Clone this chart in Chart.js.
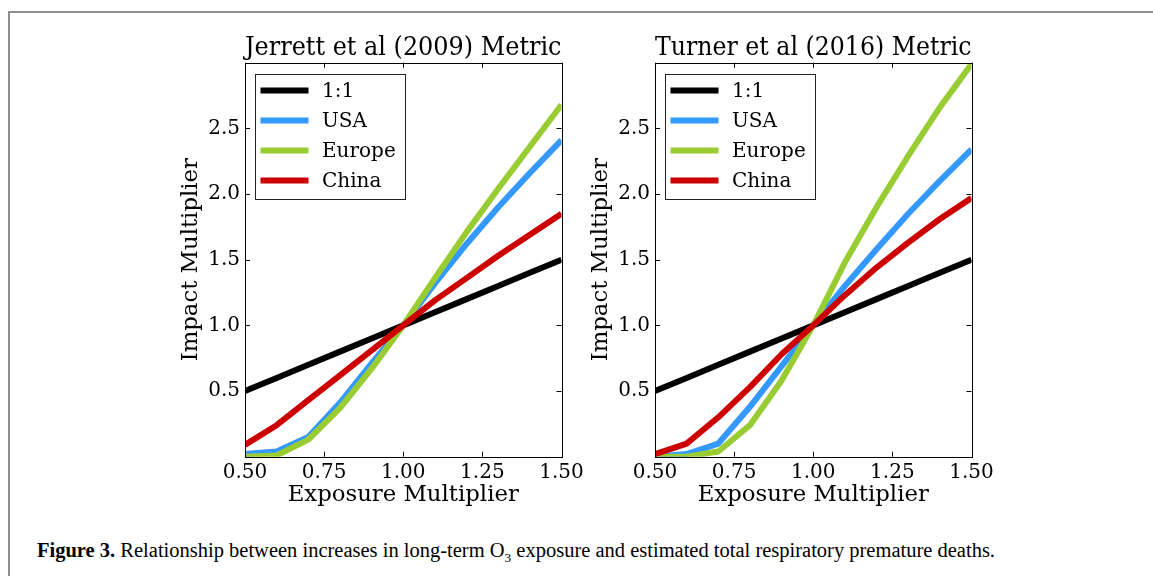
<!DOCTYPE html>
<html>
<head>
<meta charset="utf-8">
<script src="https://cdn.jsdelivr.net/npm/chart.js@4.4.0/dist/chart.umd.min.js"></script>
<style>
  html, body { margin: 0; padding: 0; background: #fff; }
  body { width: 1153px; height: 576px; position: relative; overflow: hidden; }
  #frame { position: absolute; left: 8px; top: 11px; width: 1200px; height: 600px;
           border-left: 2px solid #8f8f8f; border-top: 2px solid #8f8f8f; }
  canvas { position: absolute; top: 20px; }
  #left { left: 178px; }
  #right { left: 588px; }
  #caption { position: absolute; left: 36.7px; top: 540px; font-family: 'Liberation Serif', serif;
             font-size: 20px; line-height: 20px; white-space: nowrap; transform-origin: 0 0; color: #000; }
  #caption sub { font-size: 13px; line-height: 0; }
</style>
</head>
<body>
<div id="frame"></div>
<canvas id="left" width="409" height="500"></canvas>
<canvas id="right" width="409" height="500"></canvas>
<div id="caption"><b>Figure 3.</b> Relationship between increases in long-term O<sub>3</sub> exposure and estimated total respiratory premature deaths.</div>
<script>
// exposure multiplier (x) and impact multiplier series
const exposure = [0.5, 0.6, 0.7, 0.8, 0.9, 1.0, 1.1, 1.2, 1.3, 1.4, 1.5];
const oneToOne = [0.5, 0.6, 0.7, 0.8, 0.9, 1.0, 1.1, 1.2, 1.3, 1.4, 1.5];

const jerrettUSA    = [0.02, 0.04, 0.15, 0.41, 0.71, 1.00, 1.32, 1.62, 1.90, 2.16, 2.41];
const jerrettEurope = [0.00, 0.01, 0.13, 0.37, 0.67, 1.00, 1.36, 1.71, 2.04, 2.36, 2.68];
const jerrettChina  = [0.09, 0.24, 0.43, 0.62, 0.81, 1.00, 1.19, 1.36, 1.53, 1.69, 1.85];

const turnerUSA    = [0.00, 0.02, 0.10, 0.38, 0.69, 1.00, 1.30, 1.58, 1.85, 2.10, 2.34];
const turnerEurope = [0.00, 0.00, 0.04, 0.24, 0.58, 1.00, 1.48, 1.90, 2.29, 2.66, 2.99];
const turnerChina  = [0.02, 0.10, 0.30, 0.53, 0.78, 1.00, 1.23, 1.44, 1.63, 1.81, 1.97];

const seriesNames = ['1:1', 'USA', 'Europe', 'China'];
const seriesColors = ['#000000', '#3399ff', '#99cc33', '#cc0000'];

const xTicks = { min: 0.5, max: 1.5, step: 0.25 };
const yTicks = { min: 0, max: 3, step: 0.5 };

Chart.defaults.font.family = "'DejaVu Serif', serif";
Chart.defaults.color = '#000';

// frame + inward ticks, like the old matplotlib style
const frameTicks = {
  id: 'frameTicks',
  afterDatasetsDraw(chart) {
    const { ctx, chartArea: a, scales: { x, y } } = chart;
    const len = 5;
    ctx.save();
    ctx.strokeStyle = '#000';
    ctx.lineWidth = 1;
    ctx.beginPath();
    x.ticks.forEach(t => {
      const px = Math.round(x.getPixelForValue(t.value)) + 0.5;
      ctx.moveTo(px, a.top); ctx.lineTo(px, a.top + len);
      ctx.moveTo(px, a.bottom); ctx.lineTo(px, a.bottom - len);
    });
    y.ticks.forEach(t => {
      const py = Math.round(y.getPixelForValue(t.value)) + 0.5;
      ctx.moveTo(a.left, py); ctx.lineTo(a.left + len, py);
      ctx.moveTo(a.right, py); ctx.lineTo(a.right - len, py);
    });
    ctx.stroke();
    ctx.strokeRect(Math.round(a.left) + 0.5, Math.round(a.top) + 0.5,
                   Math.round(a.right - a.left), Math.round(a.bottom - a.top));
    ctx.restore();
  }
};

// boxed legend in the upper left of the plot
const boxLegend = {
  id: 'boxLegend',
  afterDraw(chart) {
    const { ctx, chartArea: a } = chart;
    const bx = Math.round(a.left + 10) + 0.5, by = Math.round(a.top + 11) + 0.5;
    const bw = 150, bh = 125;
    ctx.save();
    ctx.fillStyle = '#fff';
    ctx.fillRect(bx, by, bw, bh);
    ctx.strokeStyle = '#222';
    ctx.lineWidth = 1;
    ctx.strokeRect(bx, by, bw, bh);
    ctx.font = "20px 'DejaVu Serif'";
    ctx.textBaseline = 'middle';
    chart.data.datasets.forEach((ds, i) => {
      const cy = by + 16 + i * 30;
      ctx.strokeStyle = ds.borderColor;
      ctx.lineWidth = 6;
      ctx.beginPath();
      ctx.moveTo(bx + 5, cy); ctx.lineTo(bx + 53, cy);
      ctx.stroke();
      ctx.fillStyle = '#000';
      ctx.fillText(ds.label, bx + 66.5, cy + 1);
    });
    ctx.restore();
  }
};

function makeChart(id, title, usa, europe, china) {
  const values = [oneToOne, usa, europe, china];
  const datasets = values.map((vals, i) => ({
    label: seriesNames[i],
    data: exposure.map((x, j) => ({ x: x, y: vals[j] })),
    borderColor: seriesColors[i],
    backgroundColor: seriesColors[i],
    borderWidth: 6,
    pointRadius: 0,
    tension: 0,
    borderJoinStyle: 'round',
    clip: 0,
    order: 3 - i
  }));

  return new Chart(document.getElementById(id), {
    type: 'line',
    data: { datasets },
    options: {
      responsive: false,
      animation: false,
      events: [],
      layout: { padding: { top: 9, right: 25.5, bottom: 0, left: 0 } },
      plugins: {
        legend: { display: false },
        tooltip: { enabled: false },
        title: {
          display: true, text: title, fullSize: false, color: '#000',
          font: { size: 25.2, weight: 'normal', lineHeight: 1.1 },
          padding: { top: 6, bottom: 0 }
        }
      },
      scales: {
        x: {
          type: 'linear', min: xTicks.min, max: xTicks.max,
          ticks: { stepSize: xTicks.step, callback: v => v.toFixed(2), font: { size: 20 },
                   padding: 4, maxRotation: 0, autoSkip: false },
          grid: { display: false, drawTicks: false },
          border: { display: false },
          title: { display: true, text: 'Exposure Multiplier', font: { size: 22.8, lineHeight: 1.2 },
                   padding: { top: 0, bottom: 11.3 } },
          afterFit(s) { s.height = 63.3; s.paddingLeft = 0; s.paddingRight = 0; }
        },
        y: {
          min: yTicks.min, max: yTicks.max,
          ticks: { stepSize: yTicks.step, font: { size: 20 }, padding: 5,
                   callback: v => (v === yTicks.min || v === yTicks.max) ? '' : v.toFixed(1) },
          grid: { display: false, drawTicks: false },
          border: { display: false },
          title: { display: true, text: 'Impact Multiplier', font: { size: 22.8, lineHeight: 1.0 },
                   padding: { top: 1.5, bottom: 0 } },
          afterFit(s) { s.width = 67; s.paddingTop = 0; s.paddingBottom = 0; }
        }
      }
    },
    plugins: [frameTicks, boxLegend]
  });
}

makeChart('left', 'Jerrett et al (2009) Metric', jerrettUSA, jerrettEurope, jerrettChina);
makeChart('right', 'Turner et al (2016) Metric', turnerUSA, turnerEurope, turnerChina);

// squeeze caption to the width it has in the figure
const cap = document.getElementById('caption');
const capW = cap.getBoundingClientRect().width;
cap.style.transform = 'scaleX(' + (958 / capW) + ')';
</script>
</body>
</html>
